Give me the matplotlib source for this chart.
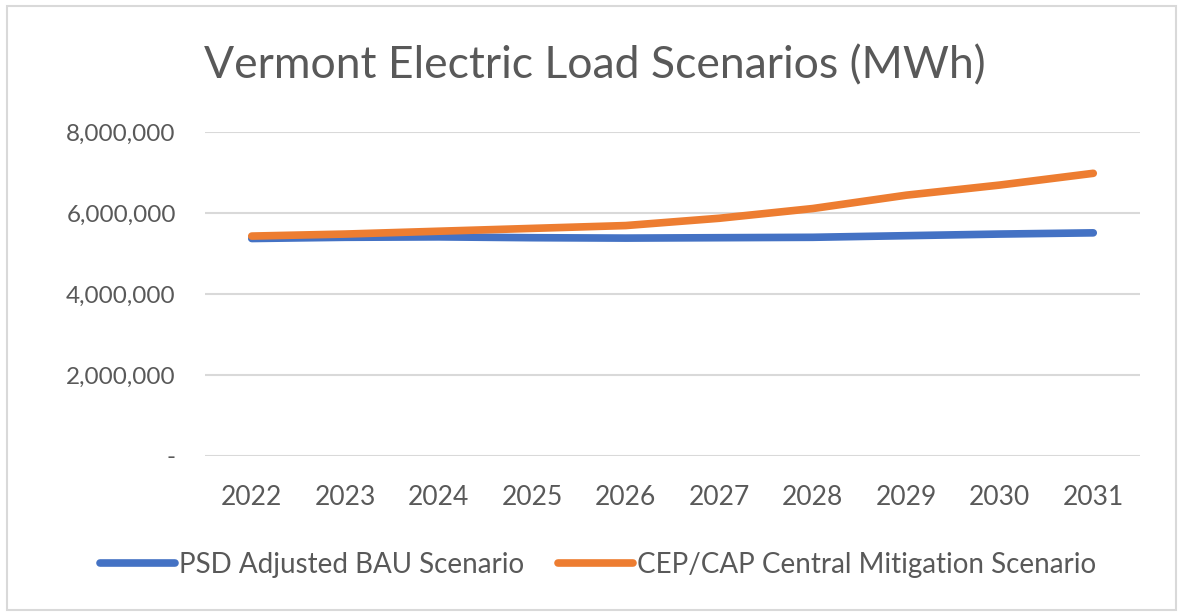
import matplotlib.pyplot as plt
from matplotlib.patches import Rectangle
from matplotlib.ticker import FuncFormatter

# Data
years = ['2022', '2023', '2024', '2025', '2026', '2027', '2028', '2029', '2030', '2031']
bau_load = [5370000, 5400000, 5410000, 5390000, 5380000, 5390000, 5400000, 5440000, 5480000, 5510000]
cep_load = [5430000, 5480000, 5550000, 5620000, 5690000, 5870000, 6110000, 6440000, 6690000, 6980000]
y_ticks = [0, 2000000, 4000000, 6000000, 8000000]

plt.rcParams['font.family'] = ['Lato', 'DejaVu Sans']
text_color = '#595959'

fig = plt.figure(figsize=(11.84, 6.14), dpi=100)
# light grey chart border
fig.patches.append(Rectangle((7 / 1184, 4 / 614), 1169 / 1184, 604 / 614, transform=fig.transFigure,
                             fill=False, edgecolor='#D9D9D9', linewidth=1.5))

ax = fig.add_axes([205 / 1184, 1 - 456 / 614, 935 / 1184, 324 / 614])

ax.plot(years, bau_load, color='#4472C4', linewidth=5.5, solid_capstyle='round',
        label='PSD Adjusted BAU Scenario', zorder=3)
ax.plot(years, cep_load, color='#ED7D31', linewidth=5.5, solid_capstyle='round',
        label='CEP/CAP Central Mitigation Scenario', zorder=4)

ax.set_xlim(-0.5, len(years) - 0.5)
ax.set_ylim(0, 8000000)
ax.set_yticks(y_ticks)
ax.yaxis.set_major_formatter(FuncFormatter(lambda v, p: '-' if v == 0 else f'{v:,.0f}'))
ax.grid(axis='y', color='#D9D9D9', linewidth=1.5)
ax.set_axisbelow(True)
for s in ax.spines.values():
    s.set_visible(False)
ax.tick_params(axis='both', length=0, labelcolor=text_color)
ax.tick_params(axis='y', pad=21, labelsize=17.5)
ax.tick_params(axis='x', pad=21, labelsize=19)

fig.text(595 / 1184, 1 - 66 / 614, 'Vermont Electric Load Scenarios (MWh)', ha='center', va='center',
         fontsize=32, color=text_color)

fig.legend(loc='center', bbox_to_anchor=(598 / 1184, 1 - 565 / 614), ncol=2, frameon=False,
           fontsize=20, labelcolor=text_color, handlelength=2.7, handletextpad=0.15, columnspacing=1.2)

fig.savefig('out.png', dpi=100)
